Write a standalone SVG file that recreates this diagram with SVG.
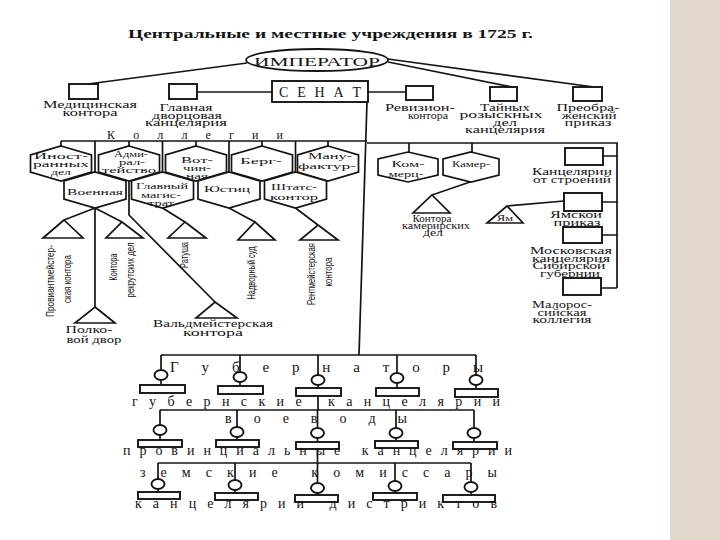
<svg xmlns="http://www.w3.org/2000/svg" width="720" height="540" viewBox="0 0 720 540">
<style>
.ln{stroke:#141414;stroke-width:1.7;fill:none}
.bx{fill:#fff;stroke:#141414;stroke-width:1.9}
.hx{fill:#fff;stroke:#141414;stroke-width:1.7}
.tri{fill:#fff;stroke:#141414;stroke-width:1.7;stroke-linejoin:miter}
.ci{fill:#fff;stroke:#141414;stroke-width:1.9}
text{font-family:"Liberation Serif","DejaVu Serif",serif;fill:#141414}
.s{font-size:9.5px;text-anchor:middle}
.h{font-size:9px;text-anchor:middle}
.v{font-family:"Liberation Sans","DejaVu Sans",sans-serif;font-size:11.5px;text-anchor:middle}
.sp{font-size:14px}
</style>
<rect x="0" y="0" width="720" height="540" fill="#fff"/>
<rect x="670" y="0" width="50" height="540" fill="#e1d9cc"/>

<text x="128" y="38" font-size="13.5" font-weight="bold" textLength="405" lengthAdjust="spacingAndGlyphs">Центральные и местные учреждения в 1725 г.</text>

<g id="connectors">
<path class="ln" d="M247,63 L88,84 M197,92 H272 M368,92 H406 M388,62 L512,87 M388,59 L594,87"/>
<path class="ln" stroke-width="2" d="M367,102 L359,355"/>
<path class="ln" d="M61,141 H367 M61,141 V146 M129,141 V146 M196,141 V146 M262,141 V146 M328,141 V146"/>
<path class="ln" d="M95,141 V172 M162.5,141 V172 M229,141 V172 M295.5,141 V172"/>
<path class="ln" d="M367,143 H617 V288 M409,143 V152 M472,143 V152 M603,156 H617 M602,202 H617 M602,235 H617 M601,288 H617"/>
<path class="ln" d="M95,208 L64,220 M95,208 L122,222 M95,208 V307 M129,181 V215 L215,302 M162.5,208 L185,222 M229,208 L255,222 M295.5,208 L318,225 M470,182 L432,195 M564,201 L507,206"/>
<path class="ln" stroke-width="1.9" d="M161,355 H476 M161,355 V370 M161,380 V385 M240,355 V372 M240,382 V386 M318,355 V375 M318,385 V388 M397,355 V373 M397,383 V388 M476,355 V375 M476,385 V389"/>
<path class="ln" stroke-width="1.9" d="M318,396 V410 M160,410 H474 M160,410 V425 M160,435 V440 M237,410 V427 M237,437 V440 M317.5,410 V428 M317.5,438 V442 M396,410 V428 M396,438 V441 M474,410 V428 M474,438 V442"/>
<path class="ln" stroke-width="1.9" d="M317.5,449 V463 M158,463 H471 M158,463 V479 M158,489 V492 M235,463 V480 M235,490 V493 M317.5,463 V483 M317.5,493 V495 M395,463 V481 M395,491 V493 M471,463 V482 M471,492 V495"/>
</g>

<g id="emperor">
<ellipse cx="317" cy="60" rx="71" ry="11" fill="#fff" stroke="#141414" stroke-width="1.8"/>
<text x="317" y="65.5" font-size="13" text-anchor="middle" textLength="126" lengthAdjust="spacingAndGlyphs">ИМПЕРАТОР</text>
</g>
<g id="senate">
<rect class="bx" x="272" y="81" width="96" height="21"/>
<text x="320" y="97" font-size="14" text-anchor="middle" textLength="82" lengthAdjust="spacing">С Е Н А Т</text>
</g>

<g id="med">
<rect class="bx" x="69" y="84" width="29" height="15"/>
<text class="s" x="90" y="108" textLength="94" lengthAdjust="spacingAndGlyphs">Медицинская</text>
<text class="s" x="90" y="116" textLength="55" lengthAdjust="spacingAndGlyphs">контора</text>
</g>
<g id="dvorts">
<rect class="bx" x="169" y="84" width="28" height="15"/>
<text class="s" x="186" y="111" textLength="53" lengthAdjust="spacingAndGlyphs">Главная</text>
<text class="s" x="187" y="118.5" textLength="70" lengthAdjust="spacingAndGlyphs">дворцовая</text>
<text class="s" x="186" y="126" textLength="82" lengthAdjust="spacingAndGlyphs">канцелярия</text>
</g>
<g id="reviz">
<rect class="bx" x="406" y="86" width="27" height="14"/>
<text class="s" x="420" y="111" textLength="70" lengthAdjust="spacingAndGlyphs">Ревизион-</text>
<text class="s" x="428" y="118.5" textLength="40" lengthAdjust="spacingAndGlyphs">контора</text>
</g>
<g id="tainykh">
<rect class="bx" x="490" y="87" width="27" height="14"/>
<text class="s" x="505" y="110.5" textLength="50" lengthAdjust="spacingAndGlyphs">Тайных</text>
<text class="s" x="501" y="118" textLength="83" lengthAdjust="spacingAndGlyphs">розыскных</text>
<text class="s" x="505" y="125.5" textLength="24" lengthAdjust="spacingAndGlyphs">дел</text>
<text class="s" x="505" y="133" textLength="80" lengthAdjust="spacingAndGlyphs">канцелярия</text>
</g>
<g id="preobr">
<rect class="bx" x="573" y="87" width="29" height="14"/>
<text class="s" x="588" y="111" textLength="63" lengthAdjust="spacingAndGlyphs">Преобра-</text>
<text class="s" x="589" y="118.5" textLength="55" lengthAdjust="spacingAndGlyphs">женский</text>
<text class="s" x="588" y="126" textLength="47" lengthAdjust="spacingAndGlyphs">приказ</text>
</g>

<g id="kollegii-label">
<text x="107" y="138.5" font-size="12" textLength="176" lengthAdjust="spacing">К о л л е г и и</text>
</g>

<g id="inostr">
<polygon class="hx" points="61,146 91.5,155 91.5,172 61,181 30.5,172 30.5,155"/>
<text class="h" x="61" y="159" textLength="54" lengthAdjust="spacingAndGlyphs">Иност-</text>
<text class="h" x="61" y="167" textLength="56" lengthAdjust="spacingAndGlyphs">ранных</text>
<text class="h" x="61" y="175" textLength="20" lengthAdjust="spacingAndGlyphs">дел</text>
</g>
<g id="admiral">
<polygon class="hx" points="129,146 159.5,155 159.5,172 129,181 98.5,172 98.5,155"/>
<text class="h" x="131" y="157" textLength="34" lengthAdjust="spacingAndGlyphs">Адми-</text>
<text class="h" x="132" y="165" textLength="26" lengthAdjust="spacingAndGlyphs">рал-</text>
<text class="h" x="129" y="173" textLength="54" lengthAdjust="spacingAndGlyphs">тейство</text>
</g>
<g id="votchin">
<polygon class="hx" points="196,146 226.5,155 226.5,172 196,181 165.5,172 165.5,155"/>
<text class="h" x="197" y="163" font-size="10.5" textLength="32" lengthAdjust="spacingAndGlyphs">Вот-</text>
<text class="h" x="197" y="171" textLength="28" lengthAdjust="spacingAndGlyphs">чин-</text>
<text class="h" x="197" y="178.5" textLength="22" lengthAdjust="spacingAndGlyphs">ная</text>
</g>
<g id="berg">
<polygon class="hx" points="262,146 292.5,155 292.5,172 262,181 231.5,172 231.5,155"/>
<text class="h" x="261" y="164" font-size="11" textLength="42" lengthAdjust="spacingAndGlyphs">Берг-</text>
</g>
<g id="manuf">
<polygon class="hx" points="328,146 358.5,155 358.5,172 328,181 297.5,172 297.5,155"/>
<text class="h" x="330" y="158.5" font-size="10" textLength="44" lengthAdjust="spacingAndGlyphs">Ману-</text>
<text class="h" x="327" y="169" font-size="10" textLength="58" lengthAdjust="spacingAndGlyphs">фактур-</text>
</g>
<g id="voennaya">
<polygon class="hx" points="95,172 126,181 126,199 95,208 64,199 64,181"/>
<text class="h" x="95" y="195" font-size="10" textLength="56" lengthAdjust="spacingAndGlyphs">Военная</text>
</g>
<g id="magistrat">
<polygon class="hx" points="162.5,172 193.5,181 193.5,199 162.5,208 131.5,199 131.5,181"/>
<text class="h" x="162" y="189" textLength="52" lengthAdjust="spacingAndGlyphs">Главный</text>
<text class="h" x="161" y="197.5" textLength="40" lengthAdjust="spacingAndGlyphs">магис-</text>
<text class="h" x="161" y="206" textLength="26" lengthAdjust="spacingAndGlyphs">трат</text>
</g>
<g id="yustits">
<polygon class="hx" points="229,172 260,181 260,199 229,208 198,199 198,181"/>
<text class="h" x="227" y="192" font-size="10" textLength="46" lengthAdjust="spacingAndGlyphs">Юстиц</text>
</g>
<g id="shtats">
<polygon class="hx" points="295.5,172 326.5,181 326.5,199 295.5,208 264.5,199 264.5,181"/>
<text class="h" x="294" y="190" textLength="46" lengthAdjust="spacingAndGlyphs">Штатс-</text>
<text class="h" x="294" y="200" textLength="48" lengthAdjust="spacingAndGlyphs">контор</text>
</g>
<g id="kommerts">
<polygon class="hx" points="408,152 438,159 438,175 408,182 378,175 378,159"/>
<text class="h" x="408" y="167" font-size="10" textLength="33" lengthAdjust="spacingAndGlyphs">Ком-</text>
<text class="h" x="406" y="177" font-size="10" textLength="35" lengthAdjust="spacingAndGlyphs">мерц-</text>
</g>
<g id="kamer">
<polygon class="hx" points="471,152 499,159 499,175 471,182 443,175 443,159"/>
<text class="h" x="471" y="167" font-size="10" textLength="38" lengthAdjust="spacingAndGlyphs">Камер-</text>
</g>

<g id="proviant">
<polygon class="tri" points="64,220 83,238 43,238"/>
<text class="v" transform="translate(54,281) rotate(-90)" textLength="72" lengthAdjust="spacingAndGlyphs">Провиантмейстер-</text>
<text class="v" transform="translate(71,279) rotate(-90)" textLength="48" lengthAdjust="spacingAndGlyphs">ская контора</text>
</g>
<g id="rekrut">
<polygon class="tri" points="122,222 143,238 106,238"/>
<text class="v" transform="translate(117,267) rotate(-90)" textLength="27" lengthAdjust="spacingAndGlyphs">Контора</text>
<text class="v" transform="translate(134,270) rotate(-90)" textLength="55" lengthAdjust="spacingAndGlyphs">рекрутских дел</text>
</g>
<g id="polkovoy">
<polygon class="tri" points="95,307 115,323 75,323"/>
<text class="s" x="89" y="333" font-size="10.5" textLength="47" lengthAdjust="spacingAndGlyphs">Полко-</text>
<text class="s" x="94" y="343" textLength="55" lengthAdjust="spacingAndGlyphs">вой двор</text>
</g>
<g id="ratusha">
<polygon class="tri" points="185,222 206,238 168,238"/>
<text class="v" transform="translate(188,255) rotate(-90)" textLength="26" lengthAdjust="spacingAndGlyphs">Ратуша</text>
</g>
<g id="valdm">
<polygon class="tri" points="215,302 237,318 196,318"/>
<text class="s" x="213" y="327" textLength="120" lengthAdjust="spacingAndGlyphs">Вальдмейстерская</text>
<text class="s" x="213" y="336" textLength="60" lengthAdjust="spacingAndGlyphs">контора</text>
</g>
<g id="nadvorny">
<polygon class="tri" points="255,222 275,240 238,240"/>
<text class="v" transform="translate(255,273) rotate(-90)" textLength="53" lengthAdjust="spacingAndGlyphs">Надворный суд</text>
</g>
<g id="rentm">
<polygon class="tri" points="318,225 338,240 300,240"/>
<text class="v" transform="translate(315,274) rotate(-90)" textLength="62" lengthAdjust="spacingAndGlyphs">Рентмейстерская</text>
<text class="v" transform="translate(332,272) rotate(-90)" textLength="29" lengthAdjust="spacingAndGlyphs">контора</text>
</g>
<g id="kamerir">
<polygon class="tri" points="432,195 450,213 413,213"/>
<text class="s" x="432" y="222" textLength="39" lengthAdjust="spacingAndGlyphs">Контора</text>
<text class="s" x="436" y="229" textLength="68" lengthAdjust="spacingAndGlyphs">камерирских</text>
<text class="s" x="433" y="236" textLength="20" lengthAdjust="spacingAndGlyphs">дел</text>
</g>
<g id="yam">
<polygon class="tri" points="507,206 523,223 487,223"/>
<text class="h" x="505" y="221" font-size="9" textLength="16" lengthAdjust="spacingAndGlyphs">Ям</text>
</g>

<g id="stroeniy">
<rect class="bx" x="565" y="148" width="38" height="17"/>
<text class="s" x="572" y="175" textLength="80" lengthAdjust="spacingAndGlyphs">Канцелярии</text>
<text class="s" x="572" y="183" textLength="78" lengthAdjust="spacingAndGlyphs">от строений</text>
</g>
<g id="yamskoy">
<rect class="bx" x="564" y="193" width="38" height="18"/>
<text class="s" x="576" y="218" textLength="52" lengthAdjust="spacingAndGlyphs">Ямской</text>
<text class="s" x="577" y="226" textLength="47" lengthAdjust="spacingAndGlyphs">приказ</text>
</g>
<g id="moskov">
<rect class="bx" x="563" y="227" width="39" height="16"/>
<text class="s" x="571" y="254" textLength="82" lengthAdjust="spacingAndGlyphs">Московская</text>
<text class="s" x="571" y="261.5" textLength="78" lengthAdjust="spacingAndGlyphs">канцелярия</text>
<text class="s" x="569" y="269" textLength="73" lengthAdjust="spacingAndGlyphs">Сибирской</text>
<text class="s" x="570" y="276.5" textLength="60" lengthAdjust="spacingAndGlyphs">губернии</text>
</g>
<g id="malorus">
<rect class="bx" x="563" y="278" width="38" height="17"/>
<text class="s" x="562" y="308" textLength="60" lengthAdjust="spacingAndGlyphs">Малорос-</text>
<text class="s" x="562" y="315.5" textLength="49" lengthAdjust="spacingAndGlyphs">сийская</text>
<text class="s" x="562" y="323" textLength="59" lengthAdjust="spacingAndGlyphs">коллегия</text>
</g>

<g id="gubernatory">
<text x="170" y="372" font-size="15" textLength="313" lengthAdjust="spacing">Г у б е р н а т о р ы</text>
<ellipse class="ci" cx="161" cy="375" rx="6.5" ry="5"/>
<ellipse class="ci" cx="240" cy="377" rx="6.5" ry="5"/>
<ellipse class="ci" cx="318" cy="380" rx="6.5" ry="5"/>
<ellipse class="ci" cx="397" cy="378" rx="6.5" ry="5"/>
<ellipse class="ci" cx="476" cy="380" rx="6.5" ry="5"/>
</g>
<g id="gub-kants">
<rect class="bx" x="140" y="385" width="45" height="8"/>
<rect class="bx" x="218" y="386" width="45" height="8"/>
<rect class="bx" x="296" y="388" width="45" height="8"/>
<rect class="bx" x="376" y="388" width="43" height="8"/>
<rect class="bx" x="455" y="389" width="43" height="8"/>
<text x="132" y="406" class="sp" textLength="368" lengthAdjust="spacing" xml:space="preserve">г у б е р н с к и е   к а н ц е л я р и и</text>
</g>
<g id="voevody">
<text x="225" y="423" class="sp" textLength="182" lengthAdjust="spacing">в о е в о д ы</text>
<ellipse class="ci" cx="160" cy="430" rx="6.5" ry="5"/>
<ellipse class="ci" cx="237" cy="432" rx="6.5" ry="5"/>
<ellipse class="ci" cx="317.5" cy="433" rx="6.5" ry="5"/>
<ellipse class="ci" cx="396" cy="433" rx="6.5" ry="5"/>
<ellipse class="ci" cx="474" cy="433" rx="6.5" ry="5"/>
</g>
<g id="prov-kants">
<rect class="bx" x="138" y="440" width="44" height="7"/>
<rect class="bx" x="216" y="440" width="43" height="7"/>
<rect class="bx" x="296" y="442" width="43" height="7"/>
<rect class="bx" x="375" y="441" width="43" height="7"/>
<rect class="bx" x="453" y="442" width="44" height="7"/>
<text x="123" y="455" class="sp" textLength="389" lengthAdjust="spacing" xml:space="preserve">п р о в и н ц и а л ь н ы е   к а н ц е л я р и и</text>
</g>
<g id="zemskie">
<text x="140" y="477" class="sp" textLength="357" lengthAdjust="spacing" xml:space="preserve">з е м с к и е   к о м и с с а р ы</text>
<ellipse class="ci" cx="158" cy="484" rx="6.5" ry="5"/>
<ellipse class="ci" cx="235" cy="485" rx="6.5" ry="5"/>
<ellipse class="ci" cx="317.5" cy="488" rx="6.5" ry="5"/>
<ellipse class="ci" cx="395" cy="486" rx="6.5" ry="5"/>
<ellipse class="ci" cx="471" cy="487" rx="6.5" ry="5"/>
</g>
<g id="distrikty">
<rect class="bx" x="138" y="492" width="42" height="7"/>
<rect class="bx" x="215" y="493" width="43" height="7"/>
<rect class="bx" x="295" y="495" width="43" height="7"/>
<rect class="bx" x="373" y="493" width="44" height="7"/>
<rect class="bx" x="443" y="495" width="52" height="7"/>
<text x="135" y="507.5" class="sp" textLength="362" lengthAdjust="spacing" xml:space="preserve">к а н ц е л я р и и   д и с т р и к т о в</text>
</g>
</svg>
